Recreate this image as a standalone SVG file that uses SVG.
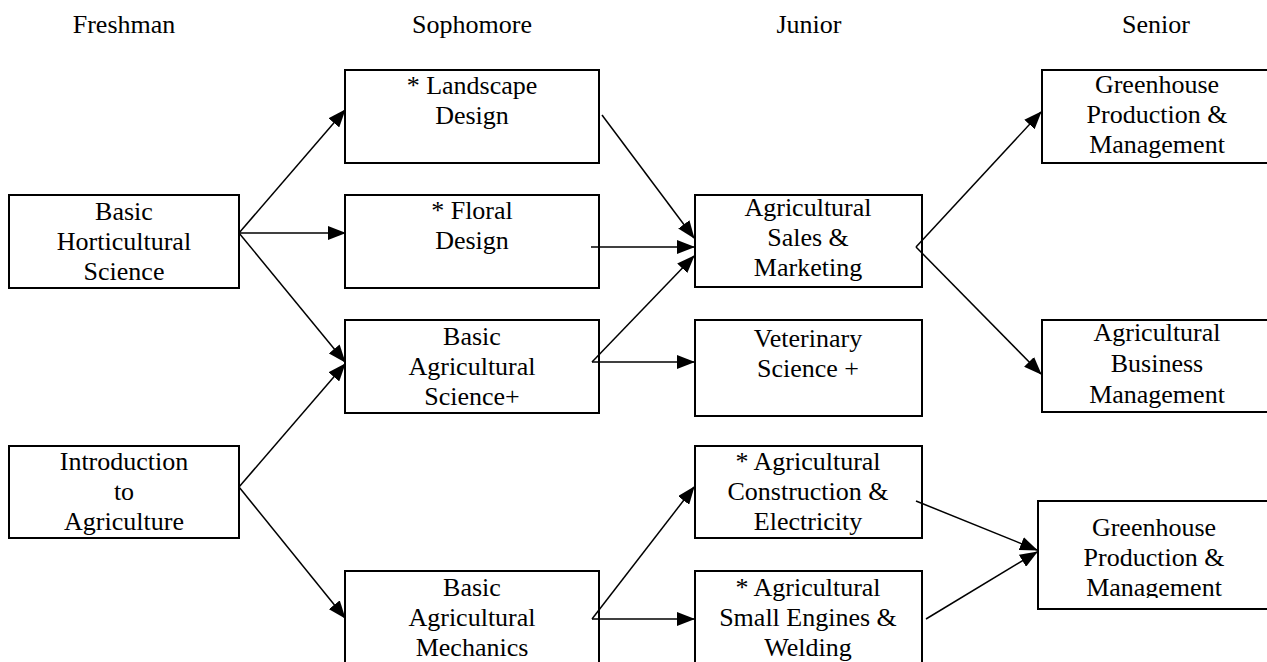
<svg xmlns="http://www.w3.org/2000/svg" width="1267" height="662" viewBox="0 0 1267 662">
<style>
text{font-family:'Liberation Serif','Times New Roman',Times,serif;font-size:26px;fill:#000;text-anchor:middle}
.box{fill:#fff;stroke:#000;stroke-width:2}
.c{stroke:#000;stroke-width:1.5;fill:none;marker-end:url(#ah)}
</style>
<defs>
<marker id="ah" viewBox="0 0 18 14" refX="17" refY="7" markerWidth="18" markerHeight="14" markerUnits="userSpaceOnUse" orient="auto">
<path d="M0,0 L18,7 L0,14 z" fill="#000"/>
</marker>
<clipPath id="clipGB"><rect x="1038" y="501" width="240" height="97"/></clipPath>
</defs>
<rect width="1267" height="662" fill="#fff"/>
<g font-family="Liberation Serif, Times New Roman, serif">
<g id="headers">
<text x="124" y="33">Freshman</text>
<text x="472" y="33">Sophomore</text>
<text x="809" y="33">Junior</text>
<text x="1156" y="33">Senior</text>
</g>
<g id="n-hort"><rect class="box" x="9" y="195" width="230" height="93"/>
<text x="124" y="220">Basic</text><text x="124" y="250">Horticultural</text><text x="124" y="280">Science</text></g>
<g id="n-intro"><rect class="box" x="9" y="446" width="230" height="92"/>
<text x="124" y="470">Introduction</text><text x="124" y="500">to</text><text x="124" y="530">Agriculture</text></g>
<g id="n-landscape"><rect class="box" x="345" y="70" width="254" height="93"/>
<text x="472" y="94">* Landscape</text><text x="472" y="124">Design</text></g>
<g id="n-floral"><rect class="box" x="345" y="195" width="254" height="93"/>
<text x="472" y="219">* Floral</text><text x="472" y="249">Design</text></g>
<g id="n-basicagsci"><rect class="box" x="345" y="320" width="254" height="93"/>
<text x="472" y="345">Basic</text><text x="472" y="375">Agricultural</text><text x="472" y="405">Science+</text></g>
<g id="n-mechanics"><rect class="box" x="345" y="571" width="254" height="100"/>
<text x="472" y="596">Basic</text><text x="472" y="626">Agricultural</text><text x="472" y="656">Mechanics</text></g>
<g id="n-sales"><rect class="box" x="695" y="195" width="227" height="92"/>
<text x="808" y="216">Agricultural</text><text x="808" y="246">Sales &amp;</text><text x="808" y="276">Marketing</text></g>
<g id="n-vet"><rect class="box" x="695" y="320" width="227" height="96"/>
<text x="808" y="347">Veterinary</text><text x="808" y="377">Science +</text></g>
<g id="n-construction"><rect class="box" x="695" y="446" width="227" height="92"/>
<text x="808" y="470">* Agricultural</text><text x="808" y="500">Construction &amp;</text><text x="808" y="530">Electricity</text></g>
<g id="n-engines"><rect class="box" x="695" y="571" width="227" height="100"/>
<text x="808" y="596">* Agricultural</text><text x="808" y="626">Small Engines &amp;</text><text x="808" y="656">Welding</text></g>
<g id="n-greenhouse1"><rect class="box" x="1042" y="70" width="230" height="93"/>
<text x="1157" y="93">Greenhouse</text><text x="1157" y="123">Production &amp;</text><text x="1157" y="153">Management</text></g>
<g id="n-business"><rect class="box" x="1042" y="320" width="230" height="92"/>
<text x="1157" y="341">Agricultural</text><text x="1157" y="372">Business</text><text x="1157" y="403">Management</text></g>
<g id="n-greenhouse2"><rect class="box" x="1038" y="501" width="234" height="108"/>
<g clip-path="url(#clipGB)"><text x="1154" y="536">Greenhouse</text><text x="1154" y="566">Production &amp;</text><text x="1154" y="596">Management</text></g></g>
</g>
<g id="connectors">
<line class="c" x1="239" y1="233" x2="345" y2="110"/>
<line class="c" x1="239" y1="233" x2="345" y2="233"/>
<line class="c" x1="239" y1="233" x2="345" y2="362"/>
<line class="c" x1="239" y1="487" x2="345" y2="364"/>
<line class="c" x1="239" y1="487" x2="345" y2="618"/>
<line class="c" x1="602" y1="115" x2="694" y2="238"/>
<line class="c" x1="591" y1="247" x2="694" y2="247"/>
<line class="c" x1="592" y1="362" x2="694" y2="256"/>
<line class="c" x1="592" y1="362" x2="694" y2="362"/>
<line class="c" x1="916" y1="247" x2="1041" y2="112"/>
<line class="c" x1="916" y1="247" x2="1041" y2="374"/>
<line class="c" x1="592" y1="619" x2="694" y2="487"/>
<line class="c" x1="592" y1="619" x2="694" y2="619"/>
<line class="c" x1="916" y1="501" x2="1037" y2="550"/>
<line class="c" x1="926" y1="619" x2="1037" y2="552"/>
</g>
</svg>
